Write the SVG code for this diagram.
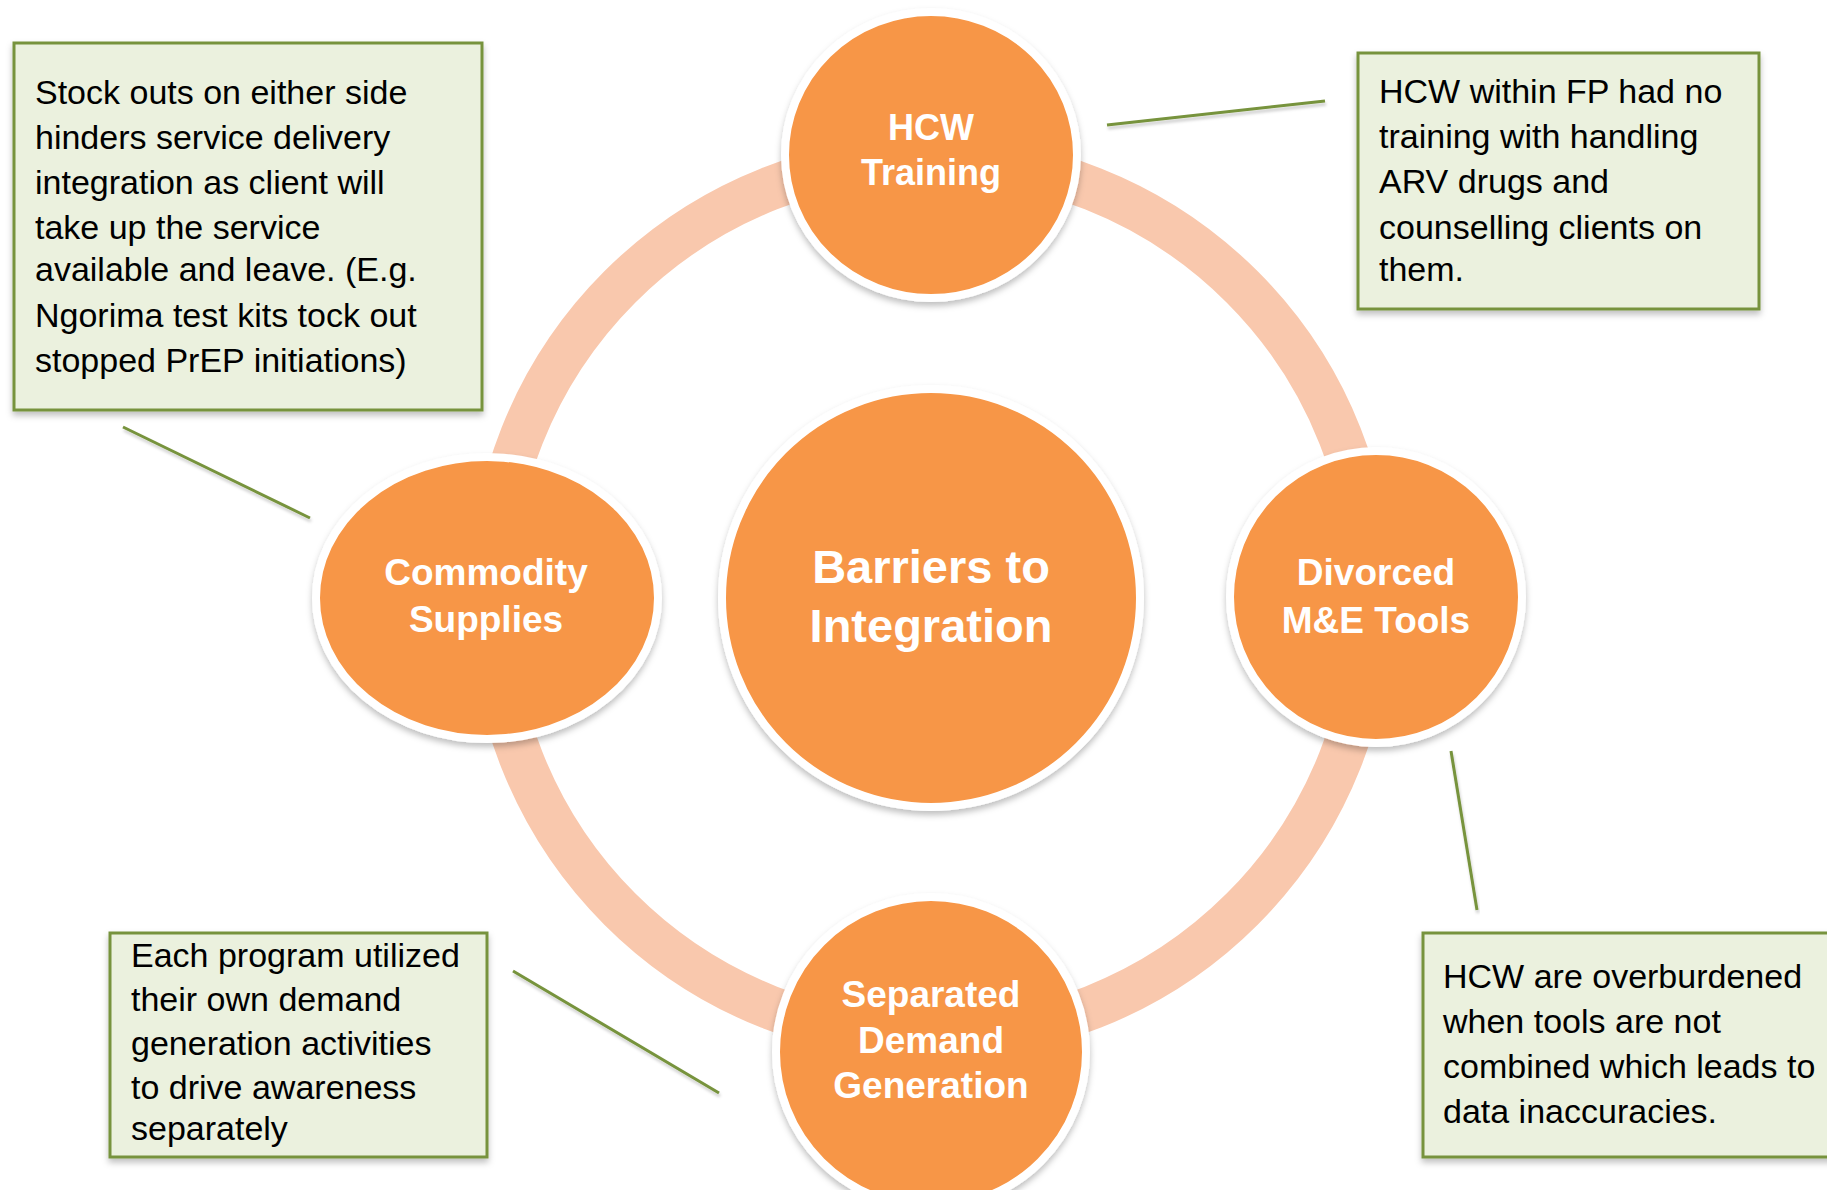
<svg xmlns="http://www.w3.org/2000/svg" width="1827" height="1190" viewBox="0 0 1827 1190">
  <defs>
    <filter id="shadow" x="-20%" y="-20%" width="140%" height="140%">
      <feDropShadow dx="0" dy="4" stdDeviation="3" flood-color="#000" flood-opacity="0.25"/>
    </filter>
    <filter id="lshadow" x="-10%" y="-50%" width="120%" height="200%">
      <feDropShadow dx="1" dy="3" stdDeviation="1.5" flood-color="#000" flood-opacity="0.2"/>
    </filter>
  </defs>
  <style>
    .node { fill: #F79646; stroke: #FFFFFF; stroke-width: 8; filter: url(#shadow); }
    .nlabel { font-family: "Liberation Sans", Arial, sans-serif; font-weight: bold; fill: #FFFFFF; text-anchor: middle; }
    .box { fill: #EBF1DE; stroke: #77933C; stroke-width: 3; filter: url(#shadow); }
    .btext { font-family: "Liberation Sans", Arial, sans-serif; font-size: 34px; fill: #000000; }
    .conn { stroke: #77933C; stroke-width: 3; fill: none; filter: url(#lshadow); }
  </style>
  <rect width="1827" height="1190" fill="#FFFFFF"/>

  <g id="ring">
    <circle cx="931" cy="598" r="440" fill="none" stroke="#F9C8AD" stroke-width="44"/>
  </g>

  <g id="connectors">
    <line class="conn" x1="1107" y1="125" x2="1325" y2="101"/>
    <line class="conn" x1="123" y1="427" x2="310" y2="518"/>
    <line class="conn" x1="1451" y1="751" x2="1477" y2="910"/>
    <line class="conn" x1="513" y1="971" x2="719" y2="1093"/>
  </g>

  <g id="node-center">
    <circle class="node" cx="931" cy="598" r="209"/>
    <text class="nlabel" font-size="47" x="931" y="583">Barriers to</text>
    <text class="nlabel" font-size="47" x="931" y="642">Integration</text>
  </g>

  <g id="node-hcw-training">
    <ellipse class="node" cx="931" cy="155" rx="146" ry="143"/>
    <text class="nlabel" font-size="36" x="931" y="140">HCW</text>
    <text class="nlabel" font-size="36" x="931" y="185">Training</text>
  </g>

  <g id="node-commodity">
    <ellipse class="node" cx="487" cy="598" rx="171" ry="141"/>
    <text class="nlabel" font-size="37" x="486" y="585">Commodity</text>
    <text class="nlabel" font-size="37" x="486" y="632">Supplies</text>
  </g>

  <g id="node-divorced">
    <circle class="node" cx="1376" cy="597" r="146"/>
    <text class="nlabel" font-size="37" x="1376" y="585">Divorced</text>
    <text class="nlabel" font-size="37" x="1376" y="633">M&amp;E Tools</text>
  </g>

  <g id="node-separated">
    <ellipse class="node" cx="931" cy="1052" rx="155" ry="155"/>
    <text class="nlabel" font-size="37" x="931" y="1007">Separated</text>
    <text class="nlabel" font-size="37" x="931" y="1053">Demand</text>
    <text class="nlabel" font-size="37" x="931" y="1098">Generation</text>
  </g>

  <g id="box-commodity">
    <rect class="box" x="14" y="43" width="468" height="367"/>
    <text class="btext" x="35" y="104">Stock outs on either side</text>
    <text class="btext" x="35" y="149">hinders service delivery</text>
    <text class="btext" x="35" y="194">integration as client will</text>
    <text class="btext" x="35" y="239">take up the service</text>
    <text class="btext" x="35" y="281">available and leave. (E.g.</text>
    <text class="btext" x="35" y="327">Ngorima test kits tock out</text>
    <text class="btext" x="35" y="372">stopped PrEP initiations)</text>
  </g>

  <g id="box-hcw">
    <rect class="box" x="1358" y="53" width="401" height="256"/>
    <text class="btext" x="1379" y="103">HCW within FP had no</text>
    <text class="btext" x="1379" y="148">training with handling</text>
    <text class="btext" x="1379" y="193">ARV drugs and</text>
    <text class="btext" x="1379" y="239">counselling clients on</text>
    <text class="btext" x="1379" y="281">them.</text>
  </g>

  <g id="box-demand">
    <rect class="box" x="110" y="933" width="377" height="224"/>
    <text class="btext" x="131" y="967">Each program utilized</text>
    <text class="btext" x="131" y="1011">their own demand</text>
    <text class="btext" x="131" y="1055">generation activities</text>
    <text class="btext" x="131" y="1099">to drive awareness</text>
    <text class="btext" x="131" y="1140">separately</text>
  </g>

  <g id="box-me">
    <rect class="box" x="1423" y="933" width="420" height="224"/>
    <text class="btext" x="1443" y="988">HCW are overburdened</text>
    <text class="btext" x="1443" y="1033">when tools are not</text>
    <text class="btext" x="1443" y="1078">combined which leads to</text>
    <text class="btext" x="1443" y="1123">data inaccuracies.</text>
  </g>
</svg>
